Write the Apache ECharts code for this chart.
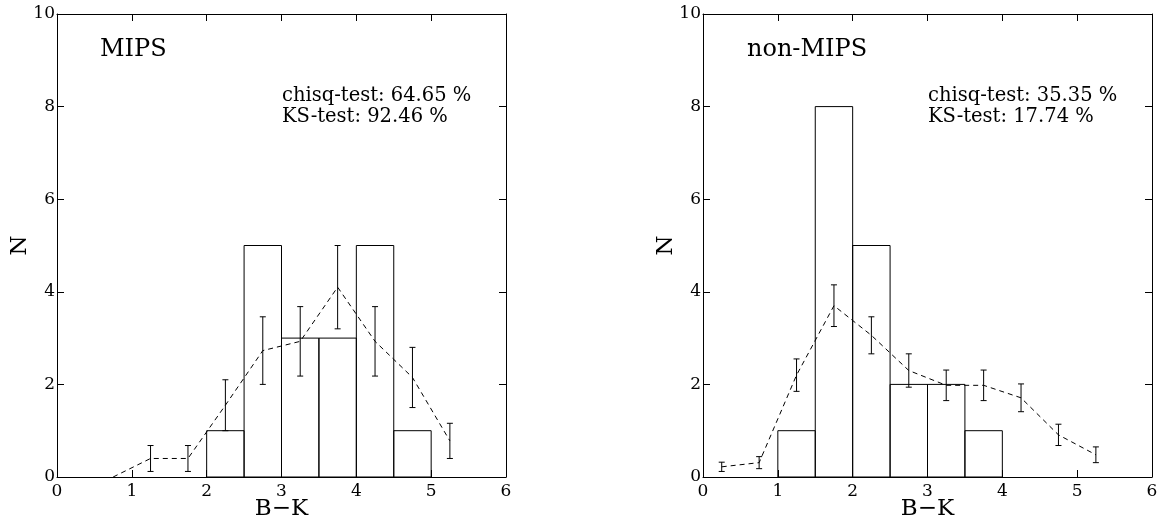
<!DOCTYPE html>
<html>
<head>
<meta charset="utf-8">
<script src="https://cdn.jsdelivr.net/npm/echarts@6/dist/echarts.min.js"></script>
<style>
html,body{margin:0;padding:0;background:#fff;}
#chart{width:1164px;height:522px;}
</style>
</head>
<body>
<div id="chart"></div>
<script>
// ---- data ----
const binWidth = 0.5;
const binStarts = [0, 0.5, 1, 1.5, 2, 2.5, 3, 3.5, 4, 4.5, 5, 5.5];
const mipsCounts = [0, 0, 0, 0, 1, 5, 3, 3, 5, 1, 0, 0];
const nonMipsCounts = [0, 0, 1, 8, 5, 2, 2, 1, 0, 0, 0, 0];

const binCenters = [0.25, 0.75, 1.25, 1.75, 2.25, 2.75, 3.25, 3.75, 4.25, 4.75, 5.25];
const mipsExpected = [null, 0, 0.4, 0.4, 1.55, 2.73, 2.93, 4.1, 2.93, 2.15, 0.78];
const mipsError = [0, 0, 0.28, 0.28, 0.55, 0.73, 0.75, 0.9, 0.75, 0.65, 0.38];
const nonMipsExpected = [0.22, 0.31, 2.2, 3.7, 3.06, 2.3, 1.98, 1.98, 1.71, 0.91, 0.48];
const nonMipsError = [0.1, 0.13, 0.35, 0.45, 0.4, 0.36, 0.33, 0.33, 0.3, 0.23, 0.17];

const xTicks = [0, 1, 2, 3, 4, 5, 6];
const yTicks = [0, 2, 4, 6, 8, 10];
const panelTitles = ['MIPS', 'non-MIPS'];
const chisqText = ['chisq-test: 64.65 %', 'chisq-test: 35.35 %'];
const ksText = ['KS-test: 92.46 %', 'KS-test: 17.74 %'];
const xName = 'B\u2212K';
const yName = 'N';

// ---- chart ----
const FONT = 'DejaVu Serif';
const chart = echarts.init(document.getElementById('chart'), null, {renderer: 'canvas'});

const grids = [
  {left: 57, top: 14, width: 449, height: 463, containLabel: false, outerBoundsMode: 'none'},
  {left: 703, top: 14, width: 449, height: 463, containLabel: false, outerBoundsMode: 'none'}
];

function xAxes(gi) {
  const base = {
    gridIndex: gi, type: 'value', min: xTicks[0], max: xTicks[xTicks.length - 1], interval: 1,
    splitLine: {show: false},
    axisLine: {show: true, onZero: false, lineStyle: {color: '#000', width: 1}},
    axisTick: {show: true, inside: true, length: 7, lineStyle: {color: '#000', width: 1}}
  };
  return [
    Object.assign({}, base, {
      position: 'bottom',
      name: xName, nameLocation: 'middle', nameGap: 21, nameMoveOverlap: false,
      nameTextStyle: {fontFamily: FONT, fontSize: 23, color: '#000'},
      axisLabel: {show: true, margin: 6, fontFamily: FONT, fontSize: 17, color: '#000'}
    }),
    Object.assign({}, base, {position: 'top', axisLabel: {show: false}})
  ];
}
function yAxes(gi) {
  const base = {
    gridIndex: gi, type: 'value', min: yTicks[0], max: yTicks[yTicks.length - 1], interval: 2,
    splitLine: {show: false},
    axisLine: {show: true, onZero: false, lineStyle: {color: '#000', width: 1}},
    axisTick: {show: true, inside: true, length: 7, lineStyle: {color: '#000', width: 1}}
  };
  return [
    Object.assign({}, base, {
      position: 'left',
      name: yName, nameLocation: 'middle', nameGap: 25, nameRotate: 90, nameMoveOverlap: false,
      nameTextStyle: {fontFamily: FONT, fontSize: 23, color: '#000'},
      axisLabel: {show: true, margin: 2, fontFamily: FONT, fontSize: 17, color: '#000'}
    }),
    Object.assign({}, base, {position: 'right', axisLabel: {show: false}})
  ];
}

function histSeries(gi, counts) {
  const data = binStarts.map((s, i) => [s, s + binWidth, counts[i]]);
  return {
    type: 'custom', xAxisIndex: gi * 2, yAxisIndex: gi * 2,
    data: data, encode: {x: [0, 1], y: 2},
    silent: true,
    renderItem: function (params, api) {
      const c = api.value(2);
      if (!c) return null;
      const p0 = api.coord([api.value(0), c]);
      const p1 = api.coord([api.value(1), 0]);
      return {
        type: 'rect',
        shape: {x: p0[0], y: p0[1], width: p1[0] - p0[0], height: p1[1] - p0[1]},
        style: {fill: 'none', stroke: '#000', lineWidth: 1}
      };
    }
  };
}
function lineSeries(gi, vals) {
  return {
    type: 'line', xAxisIndex: gi * 2, yAxisIndex: gi * 2,
    data: binCenters.map((c, i) => [c, vals[i] === null ? '-' : vals[i]]),
    showSymbol: false, symbol: 'none', silent: true, connectNulls: false,
    lineStyle: {color: '#000', width: 1, type: [5, 4]}
  };
}
function errSeries(gi, vals, errs) {
  const data = [];
  binCenters.forEach((c, i) => {
    if (vals[i] !== null && errs[i] > 0) data.push([c, vals[i] - errs[i], vals[i] + errs[i]]);
  });
  return {
    type: 'custom', xAxisIndex: gi * 2, yAxisIndex: gi * 2,
    data: data,
    encode: {x: 0, y: [1, 2]},
    silent: true,
    renderItem: function (params, api) {
      const lo = api.value(1), hi = api.value(2);
      const a = api.coord([api.value(0), lo]);
      const b = api.coord([api.value(0), hi]);
      const w = 3;
      const st = {stroke: '#000', lineWidth: 1};
      return {
        type: 'group',
        children: [
          {type: 'line', shape: {x1: a[0], y1: a[1], x2: b[0], y2: b[1]}, style: st},
          {type: 'line', shape: {x1: a[0] - w, y1: a[1], x2: a[0] + w, y2: a[1]}, style: st},
          {type: 'line', shape: {x1: b[0] - w, y1: b[1], x2: b[0] + w, y2: b[1]}, style: st}
        ]
      };
    }
  };
}
// invisible series so that the mirrored (top / right) frame axes are rendered
function frameSeries(gi) {
  return {
    type: 'line', xAxisIndex: gi * 2 + 1, yAxisIndex: gi * 2 + 1,
    data: [[xTicks[0], yTicks[0]], [xTicks[xTicks.length - 1], yTicks[yTicks.length - 1]]],
    showSymbol: false, symbol: 'none', silent: true,
    lineStyle: {opacity: 0}
  };
}

const textStyle = (size) => ({fontFamily: FONT, fontSize: size, fill: '#000'});

const option = {
  animation: false,
  backgroundColor: '#fff',
  grid: grids,
  xAxis: [].concat(xAxes(0), xAxes(1)),
  yAxis: [].concat(yAxes(0), yAxes(1)),
  series: [
    histSeries(0, mipsCounts), lineSeries(0, mipsExpected), errSeries(0, mipsExpected, mipsError), frameSeries(0),
    histSeries(1, nonMipsCounts), lineSeries(1, nonMipsExpected), errSeries(1, nonMipsExpected, nonMipsError), frameSeries(1)
  ],
  graphic: [
    {type: 'text', left: 100, top: 38, style: Object.assign({text: panelTitles[0]}, textStyle(24))},
    {type: 'text', left: 747, top: 38, style: Object.assign({text: panelTitles[1]}, textStyle(24))},
    {type: 'text', left: 282, top: 85, style: Object.assign({text: chisqText[0] + '\n' + ksText[0], lineHeight: 21}, textStyle(19.5))},
    {type: 'text', left: 928, top: 85, style: Object.assign({text: chisqText[1] + '\n' + ksText[1], lineHeight: 21}, textStyle(19.5))}
  ]
};
chart.setOption(option);
</script>
</body>
</html>
